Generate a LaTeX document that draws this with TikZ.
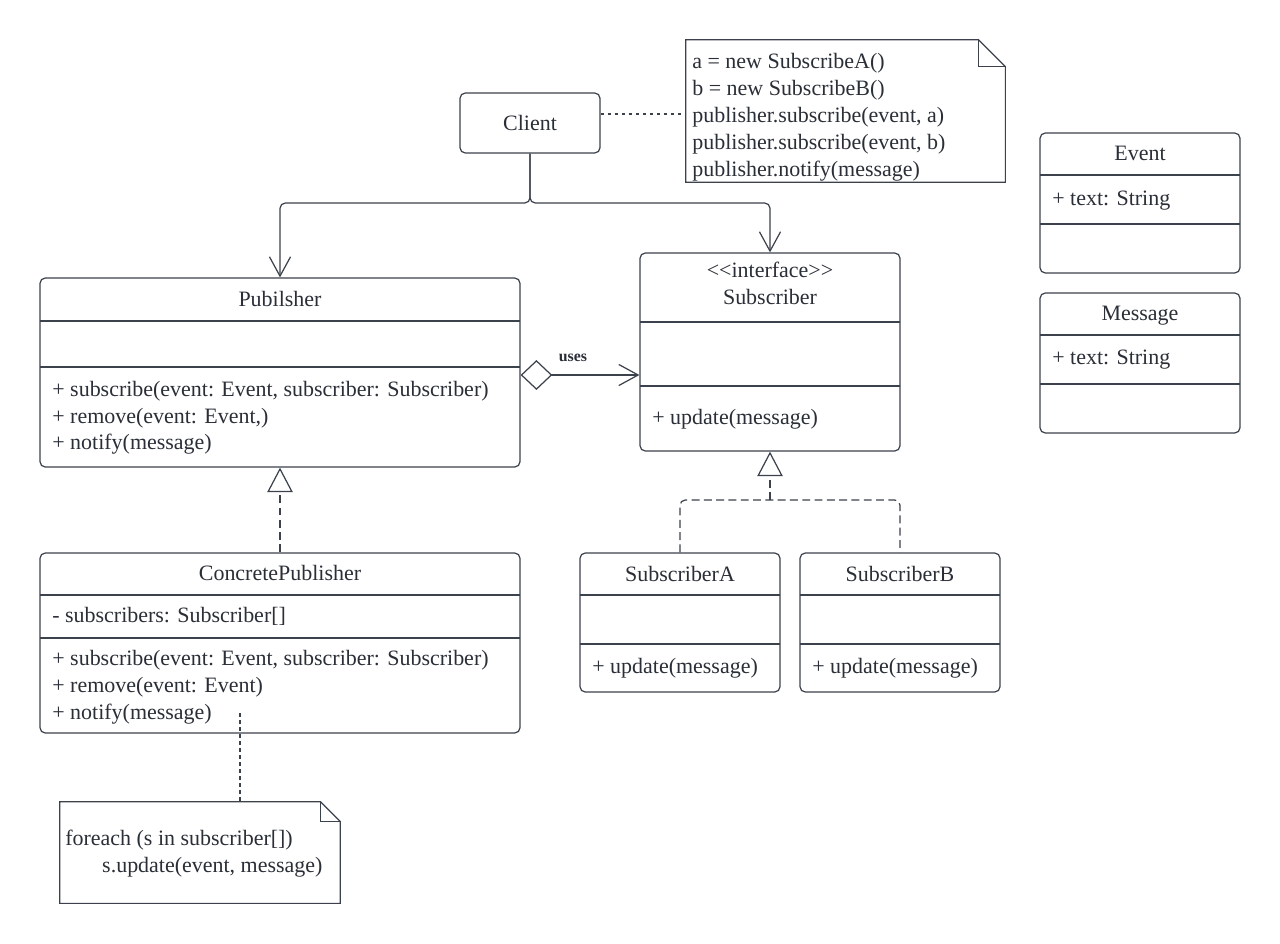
\documentclass[tikz,border=0pt]{standalone}
\usepackage{fontspec}
\setmainfont{Liberation Serif}
\usetikzlibrary{arrows.meta, positioning, fit, calc}
\definecolor{umlline}{RGB}{60,66,76}
\definecolor{umltext}{RGB}{42,46,54}

\begin{document}
\begin{tikzpicture}[x=0.02cm, y=-0.02cm,
    classbox/.style={draw=umlline, line width=0.7pt, rounded corners=3pt, inner sep=0pt},
    notebox/.style={inner sep=0pt},
    noteshape/.style={draw=umlline, line width=0.7pt},
    divider/.style={draw=umlline, line width=0.7pt},
    cname/.style={font=\fontsize{12.5}{15}\selectfont, text=umltext, inner sep=0pt, text height=0.72em, text depth=0.22em, yshift=-1.7pt},
    member/.style={cname, anchor=west},
    notetext/.style={font=\fontsize{12.5}{15.3}\selectfont, text=umltext, inner sep=0pt, align=left, anchor=north west},
    assoc/.style={draw=umlline, line width=0.7pt, rounded corners=3pt, -{Straight Barb[length=11pt, width=12pt]}},
    realizeline/.style={draw=umlline, line width=0.7pt, rounded corners=3pt, dash pattern=on 4.5pt off 2.5pt},
    realize/.style={realizeline, -{Triangle[length=14pt, width=14.5pt, fill=white]}},
    aggr/.style={draw=umlline, line width=0.7pt, {Diamond[length=18pt, width=17pt, fill=white]}-{Straight Barb[length=11pt, width=12pt]}},
    anchorline/.style={draw=umlline, line width=0.6pt, dash pattern=on 2pt off 2pt}
]
\useasboundingbox (0,0) rectangle (1280,943);

% client and its note
\node[classbox, fit={(460,93) (600,153)}] (client) {};
\node[cname] at (client.center) {Client};
\node[notebox, fit={(686,40) (1005,182)}] (clientnote) {};
\draw[noteshape] (clientnote.south west) |- ($(clientnote.north east)+(-27,0)$) -- ($(clientnote.north east)+(0,27)$) |- cycle;
\draw[noteshape] ($(clientnote.north east)+(-27,0)$) |- ($(clientnote.north east)+(0,27)$);
\node[notetext] at (692,53) {a = new SubscribeA()\\b = new SubscribeB()\\publisher.subscribe(event, a)\\publisher.subscribe(event, b)\\publisher.notify(message)};
\draw[anchorline] (client.east |- 0,114) -- (clientnote.west |- 0,114);

% publisher
\node[classbox, fit={(40,278) (520,467)}] (pub) {};
\node[cname] at (280,299) {Pubilsher};
\draw[divider] (40,321) -- (520,321);
\draw[divider] (40,367) -- (520,367);
\node[member] at (52,389) {+ subscribe(event: Event, subscriber: Subscriber)};
\node[member] at (52,416) {+ remove(event: Event,)};
\node[member] at (52,442) {+ notify(message)};

% subscriber interface
\node[classbox, fit={(640,253) (900,451)}] (sub) {};
\node[cname] at (770,270) {<\kern0pt<interface>\kern0pt>};
\node[cname] at (770,297) {Subscriber};
\draw[divider] (640,322) -- (900,322);
\draw[divider] (640,386) -- (900,386);
\node[member] at (652,417) {+ update(message)};

% concrete publisher
\node[classbox, fit={(40,553) (520,733)}] (concrete) {};
\node[cname] at (280,573) {ConcretePublisher};
\draw[divider] (40,595) -- (520,595);
\draw[divider] (40,638) -- (520,638);
\node[member] at (52,615) {- subscribers: Subscriber[]};
\node[member] at (52,658) {+ subscribe(event: Event, subscriber: Subscriber)};
\node[member] at (52,685) {+ remove(event: Event)};
\node[member] at (52,712) {+ notify(message)};

% loop note
\node[notebox, fit={(60,802) (340,903)}] (loopnote) {};
\draw[noteshape] (loopnote.south west) |- ($(loopnote.north east)+(-20,0)$) -- ($(loopnote.north east)+(0,20)$) |- cycle;
\draw[noteshape] ($(loopnote.north east)+(-20,0)$) |- ($(loopnote.north east)+(0,20)$);
\node[notetext] at (65,830) {foreach (s in subscriber[])\\\hspace*{21pt}s.update(event, message)};
\coordinate (notifyhook) at (240,713);
\draw[anchorline] (notifyhook) -- (notifyhook |- loopnote.north);

% concrete subscribers
\node[classbox, fit={(580,553) (780,692)}] (subA) {};
\node[cname] at (680,574) {SubscriberA};
\draw[divider] (580,595) -- (780,595);
\draw[divider] (580,644) -- (780,644);
\node[member] at (592,666) {+ update(message)};

\node[classbox, fit={(800,553) (1000,692)}] (subB) {};
\node[cname] at (900,574) {SubscriberB};
\draw[divider] (800,595) -- (1000,595);
\draw[divider] (800,644) -- (1000,644);
\node[member] at (812,666) {+ update(message)};

% data classes
\node[classbox, fit={(1040,133) (1240,273)}] (event) {};
\node[cname] at (1140,153) {Event};
\draw[divider] (1040,175) -- (1240,175);
\draw[divider] (1040,224) -- (1240,224);
\node[member] at (1052,198) {+ text: String};

\node[classbox, fit={(1040,293) (1240,433)}] (message) {};
\node[cname] at (1140,313) {Message};
\draw[divider] (1040,335) -- (1240,335);
\draw[divider] (1040,384) -- (1240,384);
\node[member] at (1052,357) {+ text: String};

% relations
\coordinate (fork) at (530,203);
\draw[assoc] (client.south) -- (fork) -| (pub.north);
\draw[assoc] (client.south) -- (fork) -| (sub.north);
\coordinate (usesy) at (0,375);
\draw[aggr] (pub.east |- usesy) -- node[pos=0.44, above=7pt, inner sep=0pt, font=\bfseries\fontsize{9}{11}\selectfont, text=umltext]{uses} (sub.west |- usesy);
\draw[realize] (concrete.north) -- (pub.south);
\coordinate (join) at (770,500);
\draw[realizeline] (subA.north) |- (join) -| (subB.north);
\draw[realize] (join) -- (sub.south);
\end{tikzpicture}
\end{document}
